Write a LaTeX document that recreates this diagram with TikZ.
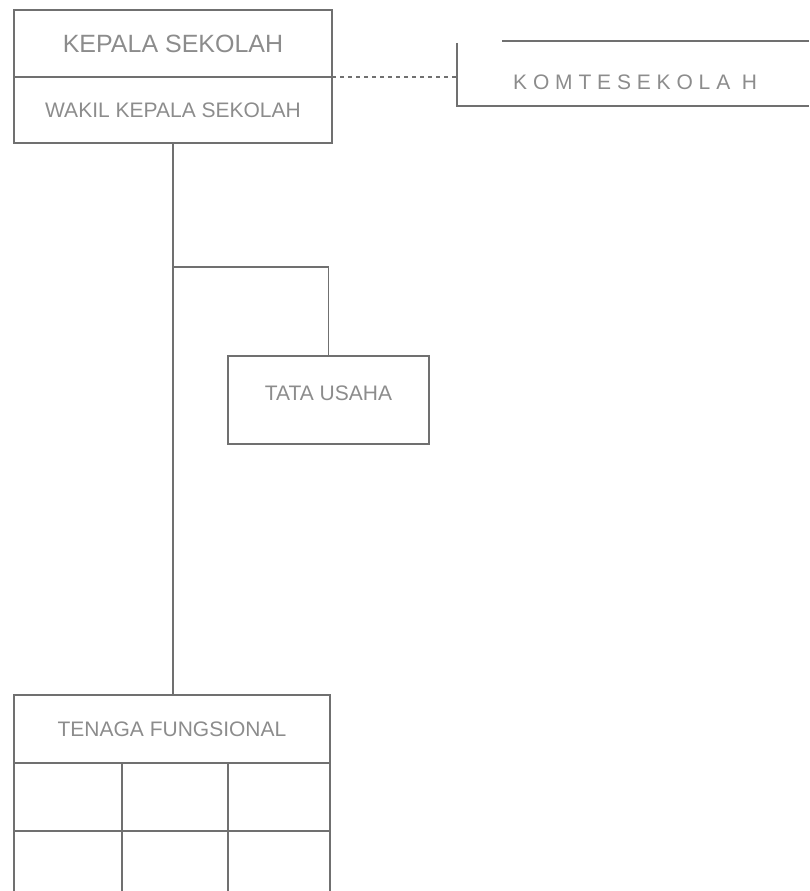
\documentclass[tikz,border=0pt]{standalone}
\usepackage{fontspec}
\setmainfont{Liberation Sans}
\usepackage{xcolor}
\usetikzlibrary{positioning}
\definecolor{linegray}{HTML}{707070}
\definecolor{textgray}{HTML}{8C8C8C}

\begin{document}
\begin{tikzpicture}[x=1pt, y=-1pt,
		box/.style={draw=linegray, line width=1.3pt, text=textgray, inner sep=0pt, outer sep=0pt, anchor=north west, align=center}, % plain grey boxes
		link/.style={draw=linegray, line width=1.3pt}, % grey connectors
		bigtext/.style={font=\fontsize{25}{25}\selectfont},
		smalltext/.style={font=\fontsize{21}{21}\selectfont}
		]
		\useasboundingbox (0,0) rectangle (809,891);
		% Kepala sekolah and wakil
		\node[box, bigtext, minimum width=318pt, minimum height=67pt] (kepala) at (14,10) {KEPALA SEKOLAH};
		\node[box, smalltext, minimum width=318pt, minimum height=66pt] (wakil) at (kepala.south west) {WAKIL KEPALA SEKOLAH};
		% Komite sekolah (open box)
		\node[anchor=west, inner sep=0pt, text=textgray, smalltext] (komite) at (513,82) {K O M T E S E K O L A \ H};
		\coordinate (komite-tl) at (457,43);
		\coordinate (komite-bl) at (457,106);
		\coordinate (komite-br) at (809,106);
		\coordinate (komite-top) at (502,41);
		\coordinate (komite-tr) at (809,41);
		\draw[link] (komite-tl) -- (komite-bl) -- (komite-br);
		\draw[link] (komite-top) -- (komite-tr);
		\draw[link, dash pattern=on 4pt off 4pt] (wakil.north east) -- (wakil.north east -| komite-tl);
		% Tata usaha
		\node[box, smalltext, minimum width=201pt, minimum height=88pt, text depth=14pt] (tata) at (228,356) {TATA USAHA};
		% Tenaga fungsional with its cells
		\node[box, smalltext, minimum width=316pt, minimum height=68pt] (tenaga) at (14,695) {TENAGA FUNGSIONAL};
		\foreach \xa/\xb/\n in {14/122/a, 122/228/b, 228/330/c}
		{
			\node[box, minimum width={(\xb-\xa)*1pt}, minimum height=68pt] (cell-\n1) at (\xa,763) {};
			\node[box, minimum width={(\xb-\xa)*1pt}, minimum height=68pt] (cell-\n2) at (cell-\n1.south west) {};
		}
		% Connectors
		\draw[link] (wakil.south) -- (wakil.south |- tenaga.north);
		\draw[link] (wakil.south |- 0,267) -| (tata.north);
	\end{tikzpicture}
\end{document}
